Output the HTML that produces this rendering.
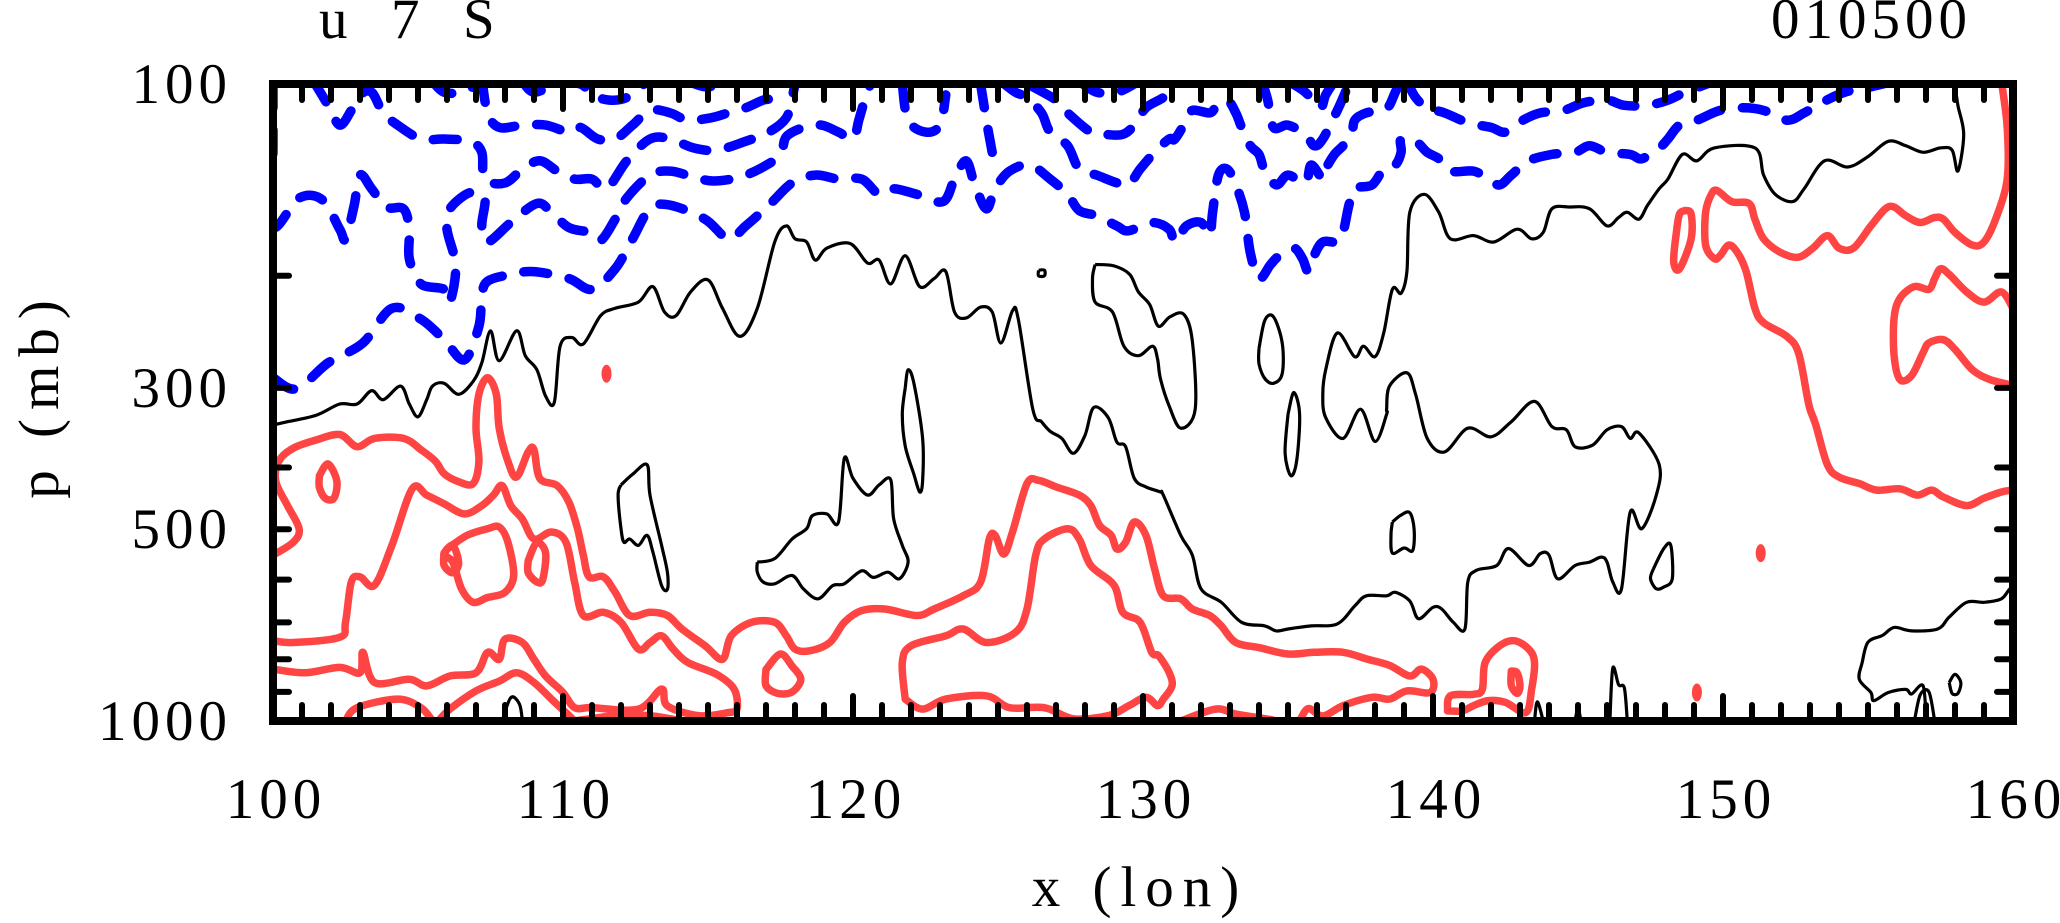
<!DOCTYPE html>
<html><head><meta charset="utf-8"><style>
html,body{margin:0;padding:0;background:#fff;}
svg{display:block;}
text{font-family:"Liberation Serif",serif;fill:#000;letter-spacing:5px;}
</style></head><body>
<svg id="chart" width="2060" height="923" viewBox="0 0 2060 923" xmlns="http://www.w3.org/2000/svg">
<defs><clipPath id="plotclip"><rect x="273" y="84" width="1740" height="637"/></clipPath></defs>
<text x="319" y="38" font-size="57" style="white-space:pre">u  7  S</text>
<text x="1972" y="38" font-size="57" text-anchor="end">010500</text>
<text x="0" y="0" font-size="57" text-anchor="middle" transform="translate(58,395) rotate(-90)" style="letter-spacing:9px">p (mb)</text>
<text x="1140" y="906" font-size="57" text-anchor="middle" style="letter-spacing:9px">x (lon)</text>
<g id="contours" clip-path="url(#plotclip)"></g>
<g id="axes"></g>
</svg>
<script>
// Axis data
const xTickLabels = [100, 110, 120, 130, 140, 150, 160];
const yTickLabels = [100, 300, 500, 1000];
const yMinorTicks = [200, 300, 400, 500, 600, 700, 800, 900];

// Contours: [lon, p] pairs
const blue1 = [[100,289],[100.8,301],[101.9,274],[103.1,255],[104.1,225],[105.1,234],[105.9,252],[106.6,271],[107.1,240],[107.2,215],[107.4,204],[108.2,199],[109,197],[110.2,202],[111,210],[111.8,195],[112.4,175],[113,157],[113.7,155],[114.9,163],[115.7,175],[116.3,167],[117.1,155],[117.9,143],[118.7,139],[119.5,141],[120.3,141],[120.9,149],[121.4,146],[122.2,149],[123.1,153],[123.5,141],[123.9,132],[124.2,144],[124.6,157],[124.9,146],[125.4,137],[126.1,134],[126.8,141],[127.4,149],[127.8,158],[128.4,161],[129.1,167],[129.5,170],[130.3,165],[130.9,169],[131.1,177],[131.5,167],[132,165],[132.3,173],[132.4,159],[132.6,139],[132.9,136],[133.2,144],[133.5,159],[133.7,184],[134,202],[134.4,192],[134.7,186],[135.2,181],[135.5,188],[135.7,197],[135.9,186],[136.2,177],[136.7,177],[136.9,171],[137.1,155],[137.3,146],[137.9,144],[138.3,136],[138.7,134],[138.9,128],[138.9,122],[139.4,123],[139.8,128],[140.2,131],[140.6,137],[141.4,137],[141.9,141],[142.3,144],[142.7,139],[143.3,132],[144.1,129],[144.9,128],[145.4,125],[146,128],[146.8,129],[147.2,131],[147.8,126],[148.1,122],[148.5,116],[149.1,114],[149.9,110],[150.7,109],[151.4,110],[152.2,114],[152.8,111],[153.4,107],[154.2,103],[155.1,101],[155.9,99]];
const blue2 = [[100,100],[100,125],[100,167],[100.9,151],[101.7,152],[102.3,169],[102.5,175],[102.8,155],[103,139],[103.4,146],[103.9,156],[104.5,157],[104.7,169],[104.7,188],[105.1,206],[105.9,210],[106.1,220],[106.3,193],[106,169],[106.1,157],[106.8,148],[107.3,151],[107.2,167],[107.4,177],[108.2,165],[109.1,154],[109.6,159],[110.2,168],[110.9,171],[111.3,176],[111.8,163],[112.2,151],[113,139],[113.7,137],[114.5,140],[115.2,142],[116.1,140],[116.9,135],[117.5,129],[117.7,121],[118.3,117],[118.9,116],[119.5,119],[120,122],[120.2,114],[120.4,106],[120.6,100]];
const blue3 = [[101.4,99],[101.9,108],[102.3,116],[102.7,110],[103,104],[103.4,103],[103.8,111],[104.3,116],[105.1,122],[105.9,122],[106.8,123],[107.2,128],[107.3,141],[108,143],[108.6,136],[109.2,132],[109.8,137],[110.4,141],[111,141],[111.5,146],[112.2,132],[113,122],[113.7,122],[114.5,126],[115.3,127],[116.3,123],[117.1,119],[117.7,113],[117.9,105],[118,100]];
const blue4 = [[107.2,98],[107.4,111],[107.8,117],[108.6,116],[109.4,116],[110.2,119],[110.6,117],[111.2,122],[111.8,122],[112.4,116],[113,110],[113.7,111],[114.3,114],[115.1,113],[115.7,111],[116.3,109],[116.9,106],[117.3,105],[117.5,100]];
const blue5 = [[108.6,99],[109,103],[109.8,100],[110.6,100],[111,104],[111.6,106],[112.2,105],[112.8,100]];
const blue6 = [[105.5,99],[105.9,103],[106.6,103],[107,100]];
const blue7 = [[125.1,99],[125.6,103],[126,105],[126.5,111],[126.8,119],[127.4,125],[127.8,136],[128.4,139],[129.1,143],[129.5,144],[129.9,136],[130.4,128],[130.9,122],[131.1,122],[131.5,114],[131.7,110],[132.3,111],[132.5,109],[132.9,106],[133.2,111],[133.4,117],[133.7,125],[134,129],[134.2,137],[134.6,144],[135,139],[135.6,143],[135.8,134],[136.2,141],[136.3,136],[136.6,129],[136.9,125],[137.2,120],[137.3,114],[137.7,111],[138.3,110],[138.5,108],[138.7,103],[138.9,99]];
const blue8 = [[126.2,101],[127,106],[127.4,111],[128.2,119],[128.7,120],[129.3,120],[129.7,116],[130.1,109],[130.7,105],[130.9,102]];
const blue9 = [[124.4,100],[124.6,114],[124.8,128]];
const blue10 = [[127.8,99],[128.4,103],[129.1,103],[129.7,100]];
const blue11 = [[121.7,100],[121.9,114],[122.5,119],[123,116],[123.2,104]];
const blue12 = [[114.3,99],[114.9,101],[115.5,100]];
const blue13 = [[134.1,99],[134.3,106],[134.5,117],[135,116],[135.6,120],[135.9,125],[136.2,122],[136.7,110],[136.9,105],[137.1,100]];
const blue14 = [[135,99],[135.6,103],[136.1,109],[136.3,104],[136.6,99]];
const blue15 = [[139.1,99],[139.4,105],[139.8,109],[140.4,111],[141.2,115],[142,117],[142.5,119],[143.1,114],[143.7,111],[144.5,110],[145.2,107],[146,106],[146.6,108],[147.4,108],[148.1,106],[148.7,103],[149.7,99]];

const blackMain = [[100,343],[100.5,339],[101.5,331],[102.3,318],[102.9,318],[103.4,303],[103.8,313],[104.4,298],[104.7,318],[105,333],[105.3,313],[105.5,298],[105.9,295],[106.4,307],[106.9,293],[107.2,274],[107.5,244],[107.8,272],[108.4,244],[108.7,267],[109.1,281],[109.4,309],[109.7,316],[109.9,258],[110.3,250],[110.7,256],[111.3,231],[111.8,225],[112.6,220],[113.1,208],[113.5,228],[113.9,231],[114.4,212],[115,203],[115.5,225],[116.1,249],[116.7,225],[117.3,177],[117.7,167],[118,175],[118.4,177],[118.7,189],[119.1,181],[119.9,178],[120.5,191],[120.9,189],[121.3,206],[121.8,186],[122.3,208],[122.8,202],[123.2,197],[123.5,228],[123.9,233],[124.4,224],[124.8,228],[125.1,255],[125.5,227],[125.7,234],[126.2,324],[126.5,339],[126.8,351],[127.2,360],[127.6,380],[128,356],[128.3,322],[128.8,334],[129.1,365],[129.4,371],[129.7,416],[130.1,429],[130.6,437],[130.7,442],[131.3,511],[131.7,549],[132,620],[132.7,651],[133.4,700],[134.2,709],[134.6,722],[135,717],[135.8,709],[136.7,704],[137.3,660],[137.7,636],[138.4,636],[138.7,628],[139.2,648],[139.5,691],[140,663],[140.3,667],[140.7,700],[141.1,717],[141.2,605],[141.5,580],[142.2,570],[142.6,536],[143.3,570],[143.7,546],[144,549],[144.3,598],[144.9,570],[145.4,563],[145.8,553],[146,563],[146.2,605],[146.5,620],[146.8,470],[147.2,499],[147.7,442],[147.8,396],[147.1,353],[146.8,360],[146.5,345],[146,349],[145.5,369],[144.9,371],[144.6,349],[144.1,345],[143.5,315],[142.7,339],[142,358],[141.2,347],[140.4,378],[139.8,360],[139.4,307],[139.1,284],[138.5,298],[138.4,324],[138.4,330],[138,364],[137.5,324],[136.9,360],[136.3,334],[136.2,307],[136.3,281],[136.7,246],[137.3,268],[137.6,258],[138,268],[138.3,246],[138.6,210],[138.9,213],[139.1,197],[139.2,159],[139.7,149],[140.2,159],[140.6,175],[141.4,173],[142.1,177],[142.9,169],[143.4,175],[143.8,171],[144.1,157],[144.7,156],[145.4,157],[146,167],[146.4,162],[146.7,159],[147.1,163],[147.4,155],[147.8,146],[148.1,141],[148.6,129],[149.1,132],[149.7,126],[151.1,126],[151.4,139],[151.8,149],[152.4,153],[152.8,146],[153.5,132],[154.3,135],[155,130],[155.7,123],[156.3,125],[156.9,128],[157.5,126],[157.9,127],[158.1,137],[158.3,120],[158.1,108],[158,100]];
const blackA = [[128.35,192],[129,193],[129.54,199],[129.84,212],[130.23,222],[130.53,240],[130.93,232],[131.41,230],[131.7,253],[131.8,324],[131.3,347],[130.9,320],[130.6,290],[130.5,270],[130.33,258],[129.84,267],[129.34,258],[128.95,228],[128.35,220],[128.26,202],[128.35,192]];
const blackB = [[112,426],[112.4,410],[112.9,396],[113,442],[113.4,530],[113.6,584],[113.6,621],[113.4,613],[113.1,543],[112.9,511],[112.6,530],[112.3,518],[112.1,524],[112,499],[111.9,442],[112,426]];
const blackC = [[116.7,563],[117.3,556],[117.9,518],[118.4,499],[118.6,476],[119.1,473],[119.5,487],[119.7,387],[120,416],[120.5,442],[120.9,426],[121.3,418],[121.4,481],[121.7,530],[121.9,563],[121.6,598],[121.2,584],[120.7,595],[120.3,581],[119.7,609],[119.3,613],[118.8,643],[118.3,621],[117.9,591],[117.3,609],[116.9,605],[116.7,584],[116.7,563]];
const blackD = [[121.8,300],[121.9,281],[122.1,295],[122.4,360],[122.4,420],[122.3,437],[122.1,410],[121.8,370],[121.7,330],[121.8,300]];
const blackE = [[134,260],[134.2,235],[134.5,232],[134.8,255],[134.8,285],[134.5,295],[134.2,290],[134,275],[134,260]];
const blackF = [[135,330],[135.2,305],[135.4,330],[135.3,390],[135.1,412],[134.9,380],[135,330]];
const blackG = [[138.6,487],[138.9,475],[139.2,471],[139.35,500],[139.3,540],[139,535],[138.6,545],[138.55,510],[138.6,487]];
const blackH = [[147.6,577],[147.96,536],[148.2,530],[148.25,598],[147.96,616],[147.7,620],[147.5,598],[147.6,577]];
const blackI = [[146.1,1000],[146.2,826],[146.4,877],[146.6,888],[146.7,1000]];
const blackJ = [[143.5,1000],[143.6,933],[143.8,1000]];
const blackK = [[144.9,1000],[145,955],[145.1,1000]];
const blackL = [[107.9,1000],[108.2,919],[108.5,941],[108.6,1000]];
const blackM = [[160,636],[159.9,620],[159.6,643],[159,651],[158.4,651],[157.8,687],[157.4,717],[156.5,722],[155.9,713],[155.5,734],[155,752],[154.8,809],[154.7,860],[155.1,902],[155.2,929],[155.7,902],[156.3,892],[156.5,907],[156.9,881],[157,1000]];
const blackN = [[157.8,870],[158,845],[158.2,870],[158.1,905],[157.9,905],[157.8,870]];
const blackO = [[156.6,1000],[156.8,910],[157.1,900],[157.3,1000]];
const blackP = [[126.4,196],[126.6,196],[126.6,200],[126.4,200],[126.4,196]];

const redA = [[100,549],[100.7,524],[100.9,499],[100.5,459],[100.1,421],[100.2,391],[100.7,373],[101.5,362],[102.3,355],[102.9,371],[103.5,360],[104.5,360],[105.1,375],[105.6,391],[105.9,409],[106.4,421],[106.9,424],[107.1,391],[107,347],[107.1,307],[107.4,289],[107.7,307],[107.8,347],[108.1,391],[108.4,414],[108.8,378],[109,375],[109.2,416],[109.8,427],[110.2,453],[110.5,499],[110.7,549],[110.9,594],[111.4,594],[111.8,628],[112.3,683],[113,675],[113.6,683],[114.1,717],[114.9,762],[115.5,800],[115.8,735],[116.5,700],[117.3,700],[117.7,735],[118,771],[118.5,776],[119.2,753],[119.7,700],[120.3,671],[121.1,667],[122.2,683],[122.8,667],[123.8,636],[124.4,605],[124.7,518],[124.9,511],[125.2,547],[125.5,505],[126,424],[126.4,419],[127,429],[127.8,442],[128.2,459],[128.5,493],[128.9,511],[129.1,537],[129.4,524],[129.7,487],[130.1,511],[130.4,577],[130.7,636],[131.3,643],[131.7,667],[132.3,683],[132.7,709],[133.2,753],[134,767],[135,785],[135.9,780],[136.9,780],[137.7,799],[138.5,818],[139.2,850],[139.6,829],[140,860],[139.9,902],[139.1,897],[138.5,924],[137.9,918],[136.9,946],[136.2,982],[135.7,956],[135.4,1000]];
const redB = [[100,748],[100.7,753],[102.3,739],[102.5,700],[102.7,605],[103,594],[103.5,612],[104.1,530],[104.8,432],[105.3,442],[105.9,456],[106.6,473],[107.2,459],[107.6,442],[107.9,427],[108.2,459],[108.6,482],[109,518],[109.6,505],[110.1,524],[110.4,605],[110.7,683],[111.4,675],[112,700],[112.6,771],[113,753],[113.4,735],[113.8,771],[114.3,809],[115.3,845],[115.9,891],[116,958],[115.7,970],[114.7,981],[113.6,947],[113.4,891],[112.6,958],[111,953],[110.4,953],[110,902],[109.4,850],[109,800],[108.6,753],[108,744],[107.8,800],[107.4,780],[107,840],[106.1,850],[105.3,881],[104.7,860],[103.5,870],[103.1,780],[103,840],[102.3,824],[101.1,840],[100,829]];
const redC1 = [[102.5,1000],[102.9,953],[104.3,924],[105.1,953],[105.5,1000]];
const redC2 = [[105.7,1000],[106.1,958],[107,897],[107.8,866],[108.4,840],[109,870],[109.6,924],[110.1,970],[110.4,1000]];
const redC3 = [[110.4,1000],[111.8,981],[113,981],[114.1,1000]];
const redI1 = [[106,537],[106.7,511],[107.4,499],[107.8,496],[108.1,524],[108.3,591],[108,628],[107.4,640],[106.9,651],[106.5,620],[106.2,563],[105.9,549],[106,537]];
const redI2 = [[108.8,560],[109.1,525],[109.4,545],[109.3,600],[109.1,605],[108.8,585],[108.8,560]];
const redI3 = [[101.6,412],[101.9,395],[102.2,420],[102.1,447],[101.8,447],[101.6,430],[101.6,412]];
const redI4 = [[117,830],[117.5,785],[117.9,820],[118.2,860],[117.9,900],[117.4,905],[117,880],[117,830]];
const redI5 = [[105.9,545],[106.2,530],[106.4,565],[106.2,585],[105.9,570],[105.9,545]];
const redD = [[121.8,924],[121.7,809],[122,762],[123.2,735],[123.8,717],[124.6,753],[125.6,726],[126,667],[126.3,549],[126.6,518],[127.4,499],[127.8,518],[128.2,570],[129,612],[129.3,675],[129.9,700],[130.3,780],[130.54,790],[130.9,839],[131,881],[130.7,924],[130.5,946],[130.1,918],[129.5,947],[128.8,981],[127.6,992],[126.6,953],[125.4,953],[124.6,913],[123.2,924],[122.4,958],[121.8,924]];
const redE = [[140.5,964],[140.6,913],[141.4,908],[141.7,892],[141.8,809],[142.3,762],[142.8,748],[143.3,771],[143.5,809],[143.4,892],[143.2,970],[142.5,935],[141.9,929],[141.4,946],[141,964],[140.5,964]];
const redE2 = [[142.7,835],[142.9,840],[143,880],[142.9,905],[142.7,880],[142.7,835]];
const redF = [[131.3,1000],[132.5,958],[133.2,975],[134.4,995],[134.5,1000]];
const redR1 = [[159.6,99],[159.8,117],[159.8,141],[159.4,163],[159,177],[158.6,179],[158,171],[157.6,163],[157.3,162],[156.8,165],[156.3,161],[155.9,156],[155.6,157],[155.1,167],[154.5,181],[154,181],[153.6,173],[153.1,181],[152.6,187],[152,184],[151.4,175],[151.1,163],[150.9,154],[150.3,153],[149.8,147],[149.6,149],[149.4,159],[149.4,179],[149.7,188],[149.9,186],[150.2,179],[150.5,184],[150.8,197],[151.1,225],[151.4,237],[152.2,249],[152.6,264],[152.9,309],[153,324],[153.2,343],[153.6,396],[154,414],[154.7,424],[155.3,434],[156.1,432],[156.7,442],[157.2,434],[157.6,445],[158.4,459],[159,447],[159.6,437],[160,434]];
const redR2 = [[160,225],[159.6,212],[159,220],[158.4,212],[157.8,199],[157.5,195],[157.3,202],[157.1,210],[156.6,208],[156.1,217],[155.9,233],[155.9,267],[156.1,291],[156.5,287],[156.9,264],[157.1,255],[157.6,252],[158,261],[158.6,281],[159.2,291],[159.9,297],[160,305]];
const redG = [[148.7,158],[148.9,160],[148.9,175],[148.5,195],[148.3,190],[148.4,170],[148.5,160],[148.7,158]];
const redDots = [[111.5,285],[151.3,545],[149.1,902]];

const X0 = 273, X1 = 2013, Y0 = 84, Y1 = 721;
function xScale(lon){ return X0 + (lon - 100) / 60 * (X1 - X0); }
function yScale(p){ return Y0 + Math.log10(p / 100) * (Y1 - Y0); }
const NS = 'http://www.w3.org/2000/svg';
const layer = document.getElementById('contours');
const axes = document.getElementById('axes');

function smoothPath(pts){
  const P = pts.map(d => [xScale(d[0]), yScale(d[1])]);
  let s = 'M' + P[0][0].toFixed(1) + ',' + P[0][1].toFixed(1);
  for (let i = 0; i < P.length - 1; i++){
    const p0 = P[Math.max(0, i-1)], p1 = P[i], p2 = P[i+1], p3 = P[Math.min(P.length-1, i+2)];
    const c1x = p1[0] + (p2[0]-p0[0])/6, c1y = p1[1] + (p2[1]-p0[1])/6;
    const c2x = p2[0] - (p3[0]-p1[0])/6, c2y = p2[1] - (p3[1]-p1[1])/6;
    s += 'C' + c1x.toFixed(1) + ',' + c1y.toFixed(1) + ' ' + c2x.toFixed(1) + ',' + c2y.toFixed(1) + ' ' + p2[0].toFixed(1) + ',' + p2[1].toFixed(1);
  }
  return s;
}
function drawContour(pts, kind, name){
  const el = document.createElementNS(NS, 'path');
  el.setAttribute('d', smoothPath(pts));
  el.setAttribute('fill', 'none');
  el.setAttribute('stroke-linejoin', 'round');
  if (kind === 'blue'){
    el.setAttribute('stroke', '#0000ff'); el.setAttribute('stroke-width', '9.5');
    el.setAttribute('stroke-dasharray', '24 22'); el.setAttribute('stroke-linecap', 'round');
  } else if (kind === 'red'){
    el.setAttribute('stroke', '#ff4444'); el.setAttribute('stroke-width', '7.5'); el.setAttribute('stroke-linecap', 'round');
  } else {
    el.setAttribute('stroke', '#000'); el.setAttribute('stroke-width', '3.2');
  }
  
  
  layer.appendChild(el);
}
const blues = [blue1,blue2,blue3,blue4,blue5,blue6,blue7,blue8,blue9,blue10,blue11,blue12,blue13,blue14,blue15];
blues.forEach((c, i) => drawContour(c, 'blue', 'negative-contour-' + (i+1)));
const blacks = [blackMain,blackA,blackB,blackC,blackD,blackE,blackF,blackG,blackH,blackI,blackJ,blackK,blackL,blackM,blackN,blackO,blackP];
blacks.forEach((c, i) => drawContour(c, 'black', 'zero-contour-' + (i+1)));
const reds = [redA,redB,redC1,redC2,redC3,redI1,redI2,redI3,redI4,redI5,redD,redE,redE2,redF,redR1,redR2,redG];
reds.forEach((c, i) => drawContour(c, 'red', 'positive-contour-' + (i+1)));
redDots.forEach((d, i) => {
  const e = document.createElementNS(NS, 'ellipse');
  e.setAttribute('cx', xScale(d[0])); e.setAttribute('cy', yScale(d[1]));
  e.setAttribute('rx', 5); e.setAttribute('ry', 9); e.setAttribute('fill', '#ff4444');
  
  
  layer.appendChild(e);
});

function line(x1,y1,x2,y2,w,name){
  const l = document.createElementNS(NS, 'line');
  l.setAttribute('x1',x1); l.setAttribute('y1',y1); l.setAttribute('x2',x2); l.setAttribute('y2',y2);
  l.setAttribute('stroke','#000'); l.setAttribute('stroke-width',w); l.setAttribute('stroke-linecap','round');
  
  
  axes.appendChild(l);
}
for (let lon = 101; lon < 160; lon++){
  const x = xScale(lon);
  const len = (lon % 10 === 0) ? 25 : 16;
  line(x, Y1, x, Y1 - len, 6, 'x-tick-bottom');
  line(x, Y0, x, Y0 + len, 6, 'x-tick-top');
}
yMinorTicks.forEach(p => {
  const y = yScale(p);
  line(X0, y, X0 + 16, y, 6, 'y-tick-left');
  line(X1, y, X1 - 16, y, 6, 'y-tick-right');
});
const frame = document.createElementNS(NS, 'rect');
frame.setAttribute('x', X0); frame.setAttribute('y', Y0);
frame.setAttribute('width', X1 - X0); frame.setAttribute('height', Y1 - Y0);
frame.setAttribute('fill', 'none'); frame.setAttribute('stroke', '#000'); frame.setAttribute('stroke-width', '8');


axes.appendChild(frame);

xTickLabels.forEach(v => {
  const t = document.createElementNS(NS, 'text');
  t.setAttribute('x', xScale(v) + 3); t.setAttribute('y', 818);
  t.setAttribute('font-size', '57'); t.setAttribute('text-anchor', 'middle');
  t.textContent = v;
  
  
  axes.appendChild(t);
});
yTickLabels.forEach(v => {
  const t = document.createElementNS(NS, 'text');
  t.setAttribute('x', 232); t.setAttribute('y', yScale(v) + 19);
  t.setAttribute('font-size', '57'); t.setAttribute('text-anchor', 'end');
  t.textContent = v;
  
  
  axes.appendChild(t);
});
</script>
</body></html>
